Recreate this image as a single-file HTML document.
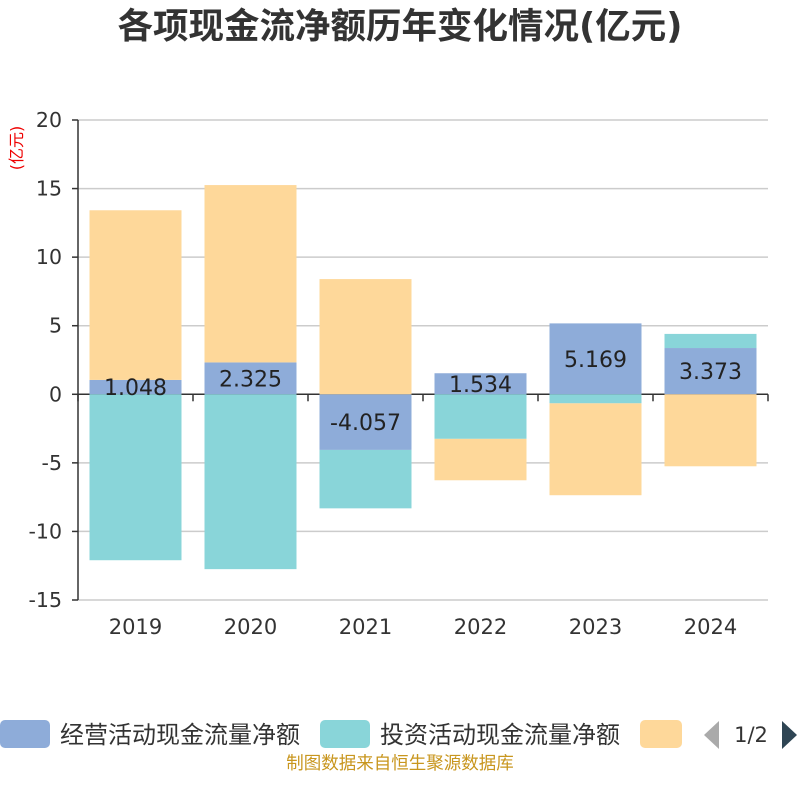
<!DOCTYPE html>
<html><head><meta charset="utf-8"><style>
body{margin:0;background:#fff;width:800px;height:800px;overflow:hidden;font-family:"DejaVu Sans","Noto Sans CJK SC",sans-serif}
</style></head><body>
<svg width="800" height="800" id="chart" font-family="DejaVu Sans, Noto Sans CJK SC, sans-serif">
<text x="400" y="38" text-anchor="middle" font-size="35.5" font-weight="bold" fill="#333">各项现金流净额历年变化情况(亿元)</text>
<text transform="translate(22,148) rotate(-90)" text-anchor="middle" font-size="16" fill="#e00">(亿元)</text>
<g id="grid"></g><g id="bars"></g><g id="labels"></g>
<g>
<rect x="0" y="720" width="50" height="28" rx="5" fill="#8eacd9"/>
<text x="60" y="743" font-size="24" fill="#333">经营活动现金流量净额</text>
<rect x="320" y="720" width="50" height="28" rx="5" fill="#89d5d9"/>
<text x="380" y="743" font-size="24" fill="#333">投资活动现金流量净额</text>
<rect x="640" y="720" width="42" height="28" rx="5" fill="#fed89a"/>
<polygon points="719,721 719,749 704,735" fill="#aaa"/>
<text x="751" y="742" text-anchor="middle" font-size="21" fill="#333">1/2</text>
<polygon points="782,721 782,749 797,735" fill="#2f4554"/>
</g>
<text x="400" y="769" text-anchor="middle" font-size="17.5" fill="#c8961e">制图数据来自恒生聚源数据库</text>
</svg>
<script>
const categories=["2019","2020","2021","2022","2023","2024"];
const operating=[1.048,2.325,-4.057,1.534,5.169,3.373];
const investing=[-12.1,-12.75,-4.26,-3.25,-0.66,1.03];
const financing=[12.37,12.93,8.4,-3.02,-6.7,-5.25];
const yTicks=[20,15,10,5,0,-5,-10,-15];
const NS="http://www.w3.org/2000/svg";
const x0=78,x1=768,yTop=120,yBot=600,vMax=20,vMin=-15;
const y=v=>yTop+(vMax-v)*(yBot-yTop)/(vMax-vMin);
const bw=(x1-x0)/categories.length;
function mk(t,a,p){const e=document.createElementNS(NS,t);for(const k in a)e.setAttribute(k,a[k]);p.appendChild(e);return e;}
const grid=document.getElementById('grid'),bars=document.getElementById('bars'),labels=document.getElementById('labels');
yTicks.forEach(v=>{
 if(v!==0){const l=mk('line',{x1:x0,x2:x1,y1:y(v),y2:y(v),stroke:'#ccc','stroke-width':1.5},grid);
 
 }
 const t=mk('text',{x:62,y:y(v)+7,'text-anchor':'end','font-size':20.5,fill:'#333'},grid);t.textContent=v;
 
 
});
const ax=mk('line',{x1:x0,x2:x1,y1:y(0),y2:y(0),stroke:'#333','stroke-width':1.5},grid);


const yl=mk('line',{x1:x0,x2:x0,y1:yTop,y2:yBot,stroke:'#333','stroke-width':1.5},grid);


for(let i=0;i<=categories.length;i++){const tk=mk('line',{x1:x0+i*bw,x2:x0+i*bw,y1:y(0),y2:y(0)+7,stroke:'#333','stroke-width':1.5},grid);
 
 }
yTicks.forEach(v=>{const tk=mk('line',{x1:x0-6,x2:x0,y1:y(v),y2:y(v),stroke:'#333','stroke-width':1.5},grid);
 
 });
const series=[[operating,'#8eacd9','operating'],[investing,'#89d5d9','investing'],[financing,'#fed89a','financing']];
categories.forEach((c,i)=>{
 const cx=x0+bw*(i+0.5);let pos=0,neg=0;
 series.forEach(([arr,col,nm])=>{
  const v=arr[i];let a,b;
  if(v>=0){a=pos;b=pos+v;pos=b;}else{a=neg;b=neg+v;neg=b;}
  const r=mk('rect',{x:cx-46,width:92,y:Math.min(y(a),y(b)),height:Math.abs(y(a)-y(b)),fill:col},bars);
  
  
  if(nm==='operating'){const t=mk('text',{x:cx,y:(y(a)+y(b))/2+8,'text-anchor':'middle','font-size':22,fill:'#222'},labels);t.textContent=v.toFixed(3);
   
   }
 });
 const t=mk('text',{x:cx,y:634,'text-anchor':'middle','font-size':21,fill:'#333'},grid);t.textContent=c;
 
 
});
</script>
</body></html>
